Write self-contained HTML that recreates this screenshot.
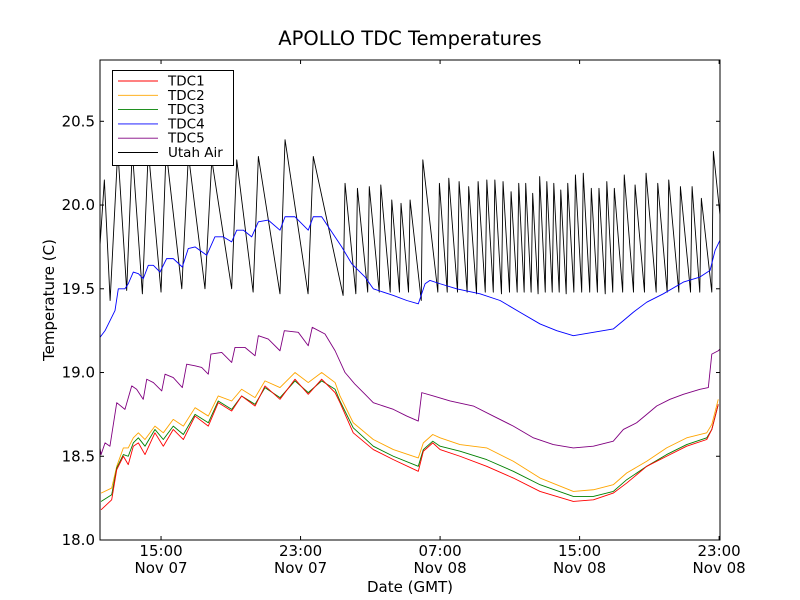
<!DOCTYPE html>
<html><head><meta charset="utf-8"><style>
body{margin:0;background:#fff;}
svg{display:block;font-family:"DejaVu Sans","Liberation Sans",sans-serif;}
</style></head><body>
<svg id="chart" width="800" height="600" viewBox="0 0 800 600">
<rect x="0" y="0" width="800" height="600" fill="#fff"/>
<text x="410" y="45" font-size="19.5" text-anchor="middle">APOLLO TDC Temperatures</text>
<defs><clipPath id="clip"><rect x="100" y="60" width="620" height="480"/></clipPath></defs>
<g id="series" clip-path="url(#clip)"></g>
<g id="axes"></g>
<rect x="100" y="60" width="620" height="480" fill="none" stroke="#000" stroke-width="1"/>
<text transform="translate(54,300) rotate(-90)" font-size="15" text-anchor="middle">Temperature (C)</text>
<text x="410" y="592" font-size="15" text-anchor="middle">Date (GMT)</text>
<g id="legend"></g>
</svg>
<script>
const seriesNames = ["TDC1","TDC2","TDC3","TDC4","TDC5","Utah Air"];
const seriesColors = ["#ff0000","#ffa500","#008000","#0000ff","#800080","#000000"];
const yTicks = [18.0,18.5,19.0,19.5,20.0,20.5];
const xTickHours = [15,23,31,39,47];
const xTickLabels = [["15:00","Nov 07"],["23:00","Nov 07"],["07:00","Nov 08"],["15:00","Nov 08"],["23:00","Nov 08"]];

const tdcTimes = [11.56,12.17,12.46,12.84,13.12,13.41,13.70,14.08,14.65,15.13,15.70,16.28,16.95,17.71,18.28,19.05,19.62,20.39,20.96,21.82,22.68,23.44,24.21,24.98,
25.26,26.02,27.17,28.32,29.75,30.04,30.58,31.00,32.14,33.67,35.20,36.73,38.64,39.79,40.93,41.70,42.85,43.99,45.14,46.29,46.58,46.95];
const tdc1 = [18.18,18.24,18.42,18.50,18.45,18.56,18.58,18.51,18.64,18.56,18.66,18.60,18.74,18.68,18.82,18.77,18.86,18.80,18.92,18.84,18.96,18.87,18.96,18.88,
18.82,18.64,18.54,18.48,18.41,18.53,18.58,18.54,18.50,18.44,18.37,18.29,18.23,18.24,18.28,18.34,18.44,18.50,18.56,18.60,18.66,18.81];
const tdc2 = [18.28,18.31,18.44,18.55,18.55,18.61,18.64,18.60,18.68,18.64,18.72,18.68,18.79,18.74,18.86,18.83,18.90,18.85,18.95,18.91,19.00,18.94,19.00,18.94,
18.86,18.70,18.60,18.54,18.49,18.58,18.63,18.61,18.57,18.55,18.47,18.37,18.29,18.30,18.33,18.40,18.47,18.55,18.61,18.64,18.69,18.84];
const tdc3 = [18.23,18.27,18.43,18.51,18.50,18.58,18.61,18.56,18.66,18.60,18.68,18.63,18.75,18.70,18.83,18.78,18.86,18.81,18.91,18.85,18.95,18.88,18.95,18.90,
18.83,18.67,18.56,18.50,18.44,18.54,18.59,18.56,18.53,18.48,18.41,18.33,18.26,18.26,18.29,18.36,18.44,18.51,18.57,18.61,18.66,18.81];

const tdc4Times = [11.50,11.79,12.36,12.55,12.93,13.12,13.41,13.70,13.98,14.27,14.56,14.94,15.32,15.70,16.22,16.56,16.95,17.62,18.09,18.57,19.05,19.34,19.72,20.20,
20.58,21.15,21.82,22.11,22.68,23.44,23.73,24.21,24.59,25.36,25.93,26.70,
27.17,28.32,29.09,29.75,30.14,30.42,31.00,31.95,33.29,34.44,35.58,36.73,37.69,38.64,39.79,40.93,41.51,42.08,42.85,43.80,44.95,45.90,46.48,46.77,47.05];
const tdc4 = [19.21,19.25,19.37,19.50,19.50,19.53,19.60,19.59,19.56,19.64,19.64,19.60,19.68,19.68,19.63,19.74,19.75,19.70,19.81,19.81,19.78,19.85,19.85,19.81,
19.90,19.91,19.85,19.93,19.93,19.85,19.93,19.93,19.87,19.75,19.65,19.57,
19.50,19.46,19.43,19.41,19.53,19.55,19.53,19.50,19.47,19.43,19.36,19.29,19.25,19.22,19.24,19.26,19.31,19.36,19.42,19.47,19.54,19.57,19.61,19.73,19.79];

const tdc5Times = [11.50,11.56,11.79,12.07,12.46,12.93,13.32,13.60,13.98,14.18,14.56,15.04,15.23,15.70,16.22,16.47,16.95,17.33,17.71,17.86,18.48,19.05,19.24,19.81,20.39,20.58,21.15,21.82,22.07,22.87,23.44,23.67,24.40,24.98,25.55,26.12,26.70,
27.17,28.32,29.09,29.75,29.95,30.61,31.57,32.91,34.05,35.20,36.35,37.49,38.64,39.79,40.93,41.51,42.27,42.85,43.42,44.18,44.95,45.90,46.38,46.58,46.95,47.05];
const tdc5 = [18.55,18.51,18.58,18.56,18.82,18.78,18.92,18.90,18.84,18.96,18.94,18.89,18.99,18.97,18.91,19.05,19.04,19.03,18.99,19.11,19.12,19.06,19.15,19.15,19.10,19.22,19.20,19.13,19.25,19.24,19.16,19.27,19.23,19.13,19.00,18.93,18.87,
18.82,18.78,18.74,18.71,18.88,18.86,18.83,18.80,18.74,18.68,18.61,18.57,18.55,18.56,18.59,18.66,18.70,18.75,18.80,18.84,18.87,18.90,18.91,19.11,19.13,19.14];

const airTimes = [11.50,11.75,12.08,12.52,13.03,13.35,13.93,14.27,15.00,15.29,16.19,16.57,17.52,17.91,19.05,19.34,20.28,20.58,21.82,22.11,23.43,23.73,25.44,25.55,
26.17,26.26,26.85,26.94,27.51,27.60,28.14,28.23,28.67,28.76,29.19,29.28,29.92,30.01,30.87,30.96,31.41,31.50,32.00,32.09,32.55,32.64,33.09,33.18,33.59,33.68,
34.05,34.14,34.52,34.61,34.98,35.07,35.42,35.51,35.82,35.91,36.22,36.31,36.62,36.71,37.03,37.12,37.43,37.52,37.83,37.92,38.23,38.32,38.67,38.76,39.12,39.21,
39.58,39.67,40.02,40.11,40.47,40.56,40.90,40.99,41.47,41.56,42.09,42.18,42.72,42.81,43.39,43.48,44.02,44.11,44.69,44.78,45.36,45.45,45.89,45.98,46.58,46.67,47.05];
const airValues = [19.76,20.15,19.43,20.33,19.49,20.33,19.47,20.33,19.48,20.33,19.50,20.30,19.50,20.27,19.50,20.27,19.48,20.29,19.47,20.39,19.47,20.29,19.46,20.13,
19.47,20.10,19.48,20.11,19.48,20.12,19.48,20.03,19.48,20.01,19.48,20.03,19.43,20.27,19.48,20.13,19.48,20.16,19.48,20.14,19.48,20.11,19.47,20.14,19.48,20.15,
19.48,20.15,19.47,20.14,19.48,20.08,19.48,20.13,19.48,20.13,19.48,20.07,19.47,20.17,19.48,20.14,19.48,20.13,19.48,20.09,19.47,20.13,19.48,20.18,19.48,20.19,
19.48,20.10,19.48,20.10,19.47,20.14,19.48,20.10,19.48,20.18,19.48,20.12,19.48,20.19,19.48,20.13,19.48,20.15,19.48,20.11,19.48,20.11,19.48,20.04,19.48,20.32,19.94];

const X0=100,X1=720,Y0=540,Y1=60;
const tMin=11.5,tMax=47.05,vMin=18.0,vMax=20.866;
function xs(t){return X0+(t-tMin)/(tMax-tMin)*(X1-X0);}
function ys(v){return Y0-(v-vMin)/(vMax-vMin)*(Y0-Y1);}
const NS="http://www.w3.org/2000/svg";
const gS=document.getElementById('series'),gA=document.getElementById('axes'),gL=document.getElementById('legend');
function mk(tag,attrs,parent){const e=document.createElementNS(NS,tag);for(const k in attrs)e.setAttribute(k,attrs[k]);parent.appendChild(e);return e;}

const allSeries=[[tdcTimes,tdc1],[tdcTimes,tdc2],[tdcTimes,tdc3],[tdc4Times,tdc4],[tdc5Times,tdc5],[airTimes,airValues]];
const drawOrder=[5,4,3,1,2,0];
drawOrder.forEach(i=>{
  const [ts,vs]=allSeries[i];
  const d=ts.map((t,j)=>(j?'L':'M')+xs(t).toFixed(2)+' '+ys(vs[j]).toFixed(2)).join(' ');
  const p=mk('path',{d:d,fill:'none',stroke:seriesColors[i],'stroke-width':'0.9','stroke-linejoin':'round'},gS);
  
  
});

yTicks.forEach(v=>{
  const y=ys(v);
  mk('line',{x1:X0,y1:y,x2:X0+4,y2:y,stroke:'#000'},gA);
  mk('line',{x1:X1,y1:y,x2:X1-4,y2:y,stroke:'#000'},gA);
  const t=mk('text',{x:X0-5,y:y+5,'font-size':'15','text-anchor':'end'},gA);
  t.textContent=v.toFixed(1);
  
  
});
xTickHours.forEach((h,i)=>{
  const x=xs(h);
  mk('line',{x1:x,y1:Y0,x2:x,y2:Y0-4,stroke:'#000'},gA);
  mk('line',{x1:x,y1:Y1,x2:x,y2:Y1+4,stroke:'#000'},gA);
  const t1=mk('text',{x:x,y:556,'font-size':'15','text-anchor':'middle'},gA);
  t1.textContent=xTickLabels[i][0];
  
  
  const t2=mk('text',{x:x,y:573,'font-size':'15','text-anchor':'middle'},gA);
  t2.textContent=xTickLabels[i][1];
  
  
});

mk('rect',{x:112.5,y:70.5,width:121,height:95,fill:'#fff',stroke:'#000','stroke-width':'1'},gL);
seriesNames.forEach((n,i)=>{
  const y=81+i*14.3;
  const l=mk('line',{x1:118,y1:y,x2:158,y2:y,stroke:seriesColors[i],'stroke-width':'0.9'},gL);
  
  
  const t=mk('text',{x:168,y:y+4.5,'font-size':'13.5'},gL);
  t.textContent=n;
  
  
});
</script>
</body></html>
